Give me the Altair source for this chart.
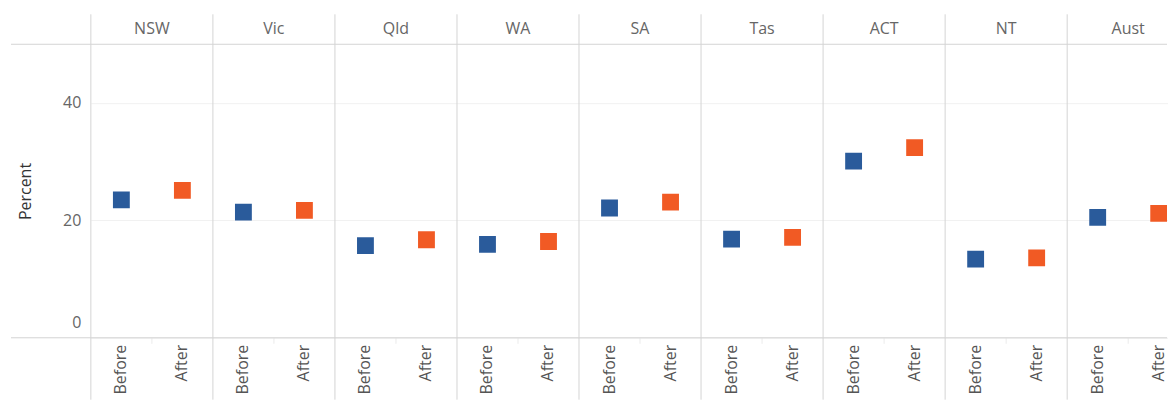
import altair as alt
import pandas as pd

states = ["NSW", "Vic", "Qld", "WA", "SA", "Tas", "ACT", "NT", "Aust"]
periods = ["Before", "After"]
before = [23.5, 21.4, 15.7, 15.9, 22.1, 16.8, 30.1, 13.4, 20.5]
after = [25.1, 21.7, 16.7, 16.4, 23.1, 17.1, 32.4, 13.6, 21.2]
colors = ["#2A5B9B", "#F15A24"]
y_ticks = [0, 20, 40]

rows = []
for s, b, a in zip(states, before, after):
    rows.append({"state": s, "period": "Before", "value": b})
    rows.append({"state": s, "period": "After", "value": a})
df = pd.DataFrame(rows)

PANEL = 122.25
W = 1078
H = 294
FONT = "Open Sans"
LINE = "#d4d4d4"

x_scale = alt.Scale(type="band", domain=states, paddingInner=0, paddingOuter=0,
                    range=[0, PANEL * len(states)])
off_scale = alt.Scale(type="band", domain=periods, paddingInner=0, paddingOuter=0)

y_enc = alt.Y(
    "value:Q",
    scale=alt.Scale(domain=[0, 50], nice=False),
    axis=alt.Axis(
        title="Percent", values=y_ticks, grid=True, gridColor="#f1f1f1",
        domain=False, ticks=False, labelFontSize=16, labelColor="#666",
        labelFont=FONT, labelPadding=10, labelFlush=True, labelFlushOffset=-7,
        titleX=-57, titleY=H / 2, titleFontSize=16, titleColor="#333",
        titleFont=FONT, titleFontWeight="normal", titleAngle=-90,
    ),
)

base = alt.Chart(df)
one = base.transform_filter(alt.datum.period == "Before")

points = base.mark_square(size=285, opacity=1, filled=True, clip=True).encode(
    x=alt.X("state:N", scale=x_scale, axis=None),
    xOffset=alt.XOffset("period:N", scale=off_scale),
    y=y_enc,
    color=alt.Color("period:N", scale=alt.Scale(domain=periods, range=colors),
                    legend=None),
)

labels = base.mark_text(angle=270, align="right", baseline="middle",
                        font=FONT, fontSize=16, color="#555").encode(
    x=alt.X("state:N", scale=x_scale, axis=None),
    xOffset=alt.XOffset("period:N", scale=off_scale),
    y=alt.value(H + 7),
    text="period:N",
)

headers = one.mark_text(align="center", baseline="middle", font=FONT,
                        fontSize=16, color="#666").encode(
    x=alt.X("state:N", scale=x_scale, axis=None),
    y=alt.value(-15),
    text="state:N",
)

vline = one.mark_rule(color=LINE, strokeWidth=1).encode(
    x=alt.X("state:N", scale=x_scale, bandPosition=0, axis=None),
    y=alt.value(-30), y2=alt.value(H + 62),
)

midtick = one.mark_rule(color="#ebebeb", strokeWidth=1).encode(
    x=alt.X("state:N", scale=x_scale, bandPosition=0.5, axis=None),
    y=alt.value(H), y2=alt.value(H + 6),
)

hline_src = pd.DataFrame({"pos": [0, H]})
hlines = alt.Chart(hline_src).mark_rule(color=LINE, strokeWidth=1).encode(
    x=alt.value(-80), x2=alt.value(W), y=alt.Y("pos:Q", scale=None),
)

chart = alt.layer(points, labels, headers, vline, midtick, hlines).properties(
    width=W, height=H,
    padding={"left": 2, "top": 5, "right": 0, "bottom": 0},
).configure_view(stroke=None)

chart.save("out.html", embed_options={"renderer": "svg", "actions": False})
